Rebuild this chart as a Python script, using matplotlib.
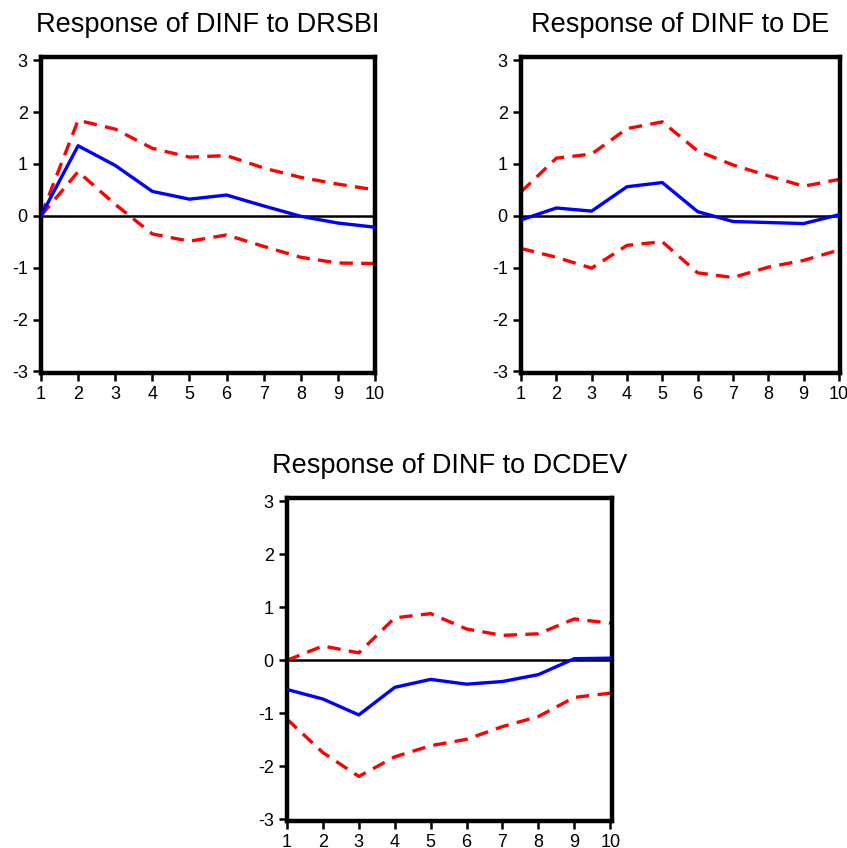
import matplotlib
matplotlib.use("Agg")
import matplotlib.pyplot as plt

plt.rcParams['font.family'] = ['Liberation Sans', 'DejaVu Sans']

periods = list(range(1, 11))

titles = ["Response of DINF to DRSBI", "Response of DINF to DE", "Response of DINF to DCDEV"]

drsbi_resp = [0.0, 1.35, 0.97, 0.47, 0.32, 0.40, 0.19, -0.01, -0.14, -0.22]
drsbi_up = [0.0, 1.84, 1.67, 1.30, 1.13, 1.16, 0.92, 0.74, 0.61, 0.50]
drsbi_lo = [0.0, 0.85, 0.22, -0.35, -0.49, -0.37, -0.59, -0.80, -0.91, -0.92]

de_resp = [-0.08, 0.15, 0.09, 0.56, 0.64, 0.08, -0.11, -0.13, -0.15, 0.02]
de_up = [0.46, 1.11, 1.19, 1.68, 1.81, 1.25, 0.98, 0.77, 0.57, 0.70]
de_lo = [-0.63, -0.80, -1.01, -0.57, -0.50, -1.10, -1.19, -0.99, -0.86, -0.66]

dcdev_resp = [-0.55, -0.73, -1.03, -0.51, -0.36, -0.45, -0.40, -0.27, 0.03, 0.04]
dcdev_up = [0.0, 0.27, 0.14, 0.80, 0.88, 0.59, 0.47, 0.50, 0.78, 0.70]
dcdev_lo = [-1.11, -1.74, -2.19, -1.82, -1.61, -1.49, -1.25, -1.06, -0.70, -0.62]

yticks = [-3, -2, -1, 0, 1, 2, 3]

W, H = 847, 848
fig = plt.figure(figsize=(W / 100, H / 100), dpi=100)

# axes rectangles in pixels: left, right, top, bottom
rects = [(41, 375, 57, 373), (521, 840, 57, 373), (287, 612, 498, 821)]
xmaxes = [10.0, 10.03, 10.05]
series = [(drsbi_resp, drsbi_up, drsbi_lo), (de_resp, de_up, de_lo), (dcdev_resp, dcdev_up, dcdev_lo)]

for (l, r, t, b), title, (resp, up, lo), xm in zip(rects, titles, series, xmaxes):
    ax = fig.add_axes([l / W, 1 - b / H, (r - l) / W, (b - t) / H])
    ax.axhline(0, color='black', lw=1.8, zorder=1)
    ax.plot(periods, up, color='#ff0000', lw=2.4, ls=(0, (4, 2.5)), zorder=2)
    ax.plot(periods, lo, color='#ff0000', lw=2.4, ls=(0, (4, 2.5)), zorder=2)
    ax.plot(periods, resp, color='#0000ff', lw=2.4, zorder=3)
    ax.set_xlim(1, xm)
    ax.set_ylim(-3.03, 3.06)
    ax.set_xticks(periods)
    ax.set_yticks(yticks)
    ax.set_yticklabels([str(v) for v in yticks])
    for s in ax.spines.values():
        s.set_linewidth(3.2)
    ax.tick_params(direction='out', length=6, width=1.8, labelsize=13, pad=3.5,
                   top=False, right=False)
    ax.set_title(title, fontsize=19.5, pad=18)

fig.savefig("out.png", dpi=100)
